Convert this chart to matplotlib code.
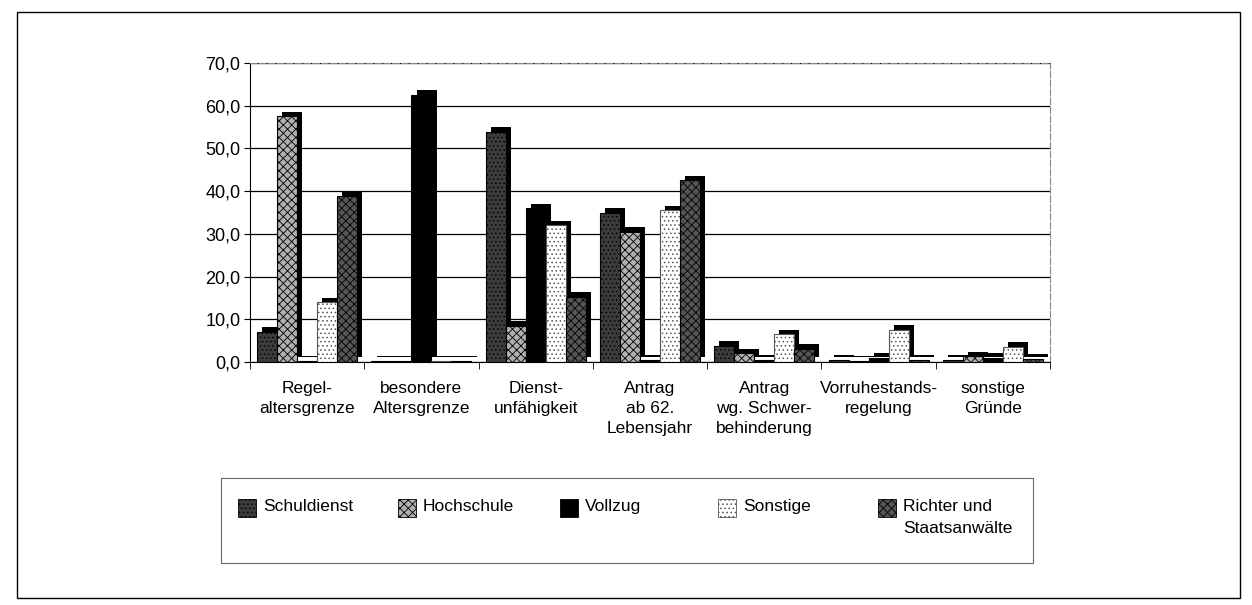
import numpy as np
import matplotlib
matplotlib.use("Agg")
import matplotlib.pyplot as plt
from matplotlib.patches import Rectangle

plt.rcParams['font.family'] = ['Liberation Sans', 'DejaVu Sans']
plt.rcParams['hatch.linewidth'] = 0.6

kategorien = ['Regel-\naltersgrenze', 'besondere\nAltersgrenze', 'Dienst-\nunfähigkeit',
              'Antrag\nab 62.\nLebensjahr', 'Antrag\nwg. Schwer-\nbehinderung',
              'Vorruhestands-\nregelung', 'sonstige\nGründe']
serien = ['Schuldienst', 'Hochschule', 'Vollzug', 'Sonstige', 'Richter und\nStaatsanwälte']

schuldienst = [7.0, 0.2, 53.8, 35.0, 3.8, 0.5, 0.5]
hochschule = [57.5, 0.2, 8.5, 30.5, 2.0, 0.3, 1.3]
vollzug = [0.3, 62.5, 36.0, 0.5, 0.5, 1.0, 1.0]
sonstige = [14.0, 0.2, 32.0, 35.5, 6.5, 7.5, 3.5]
richter = [38.8, 0.2, 15.3, 42.5, 3.0, 0.5, 0.7]
werte = [schuldienst, hochschule, vollzug, sonstige, richter]

# Graustufen + Schraffur wie im Scan
stile = [dict(fc='#3c3c3c', hatch='....', ec='black'),
         dict(fc='#b0b0b0', hatch='xxxx', ec='black'),
         dict(fc='black', hatch=None, ec='black'),
         dict(fc='white', hatch='....', ec='#555555'),
         dict(fc='#555555', hatch='xxxx', ec='black')]

W, H = 1252, 605
fig = plt.figure(figsize=(W / 100, H / 100), dpi=100)
ax = fig.add_axes([250/W, 1-362/H, 800/W, 299/H])

x = np.arange(len(kategorien))
w = 0.175
dx, dy = 0.045, 1.1
for j, (v, st) in enumerate(zip(werte, stile)):
    pos = x + (j - 2) * 0.175
    # Schatten fuer den 3D-Effekt
    ax.bar(pos + dx, v, w, bottom=dy, color='black', zorder=2)
    ax.bar(pos, v, w, facecolor=st['fc'], hatch=st['hatch'], edgecolor=st['ec'],
           linewidth=0.8, zorder=3)

ax.set_xlim(-0.5, len(kategorien) - 0.5)
ax.set_ylim(0, 70)
ax.set_yticks(np.arange(0, 71, 10))
ax.set_yticklabels([('%.1f' % t).replace('.', ',') for t in np.arange(0, 71, 10)], fontsize=13)
ax.set_xticks(x)
ax.set_xticklabels(kategorien, fontsize=12.5, linespacing=1.4, va='top')
ax.set_xticks(np.arange(-0.5, len(kategorien)), minor=True)
ax.tick_params(axis='x', which='major', length=0, pad=14)
ax.tick_params(axis='x', which='minor', length=5, direction='out')
ax.tick_params(axis='y', length=4, direction='out', pad=3)
ax.grid(axis='y', color='black', linewidth=0.9)
ax.set_axisbelow(True)
ax.spines['top'].set_color('#888888')
ax.spines['top'].set_linestyle((0, (6, 2)))
ax.spines['right'].set_color('#888888')
ax.spines['right'].set_linestyle((0, (6, 2)))

# Legende: Rahmen, Kaestchen und Text
fig.patches.append(Rectangle((221/W, 1-563/H), 812/W, 85/H, transform=fig.transFigure,
                             fill=False, edgecolor='#666666', linewidth=0.8))
leg_x = [238, 398, 560, 718, 878]
for lx, name, st in zip(leg_x, serien, stile):
    fig.patches.append(Rectangle((lx/W, 1-517/H), 18/W, 18/H, transform=fig.transFigure,
                                 facecolor=st['fc'], hatch=st['hatch'], edgecolor=st['ec'],
                                 linewidth=0.6))
    fig.text((lx + 25)/W, 1-499/H, name, fontsize=12.5, va='top', ha='left',
             linespacing=1.6)

# Aussenrahmen
fig.patches.append(Rectangle((17/W, 1-598/H), 1223/W, 586/H, transform=fig.transFigure,
                             fill=False, edgecolor='black', linewidth=1.0))

fig.savefig('out.png', dpi=100)
